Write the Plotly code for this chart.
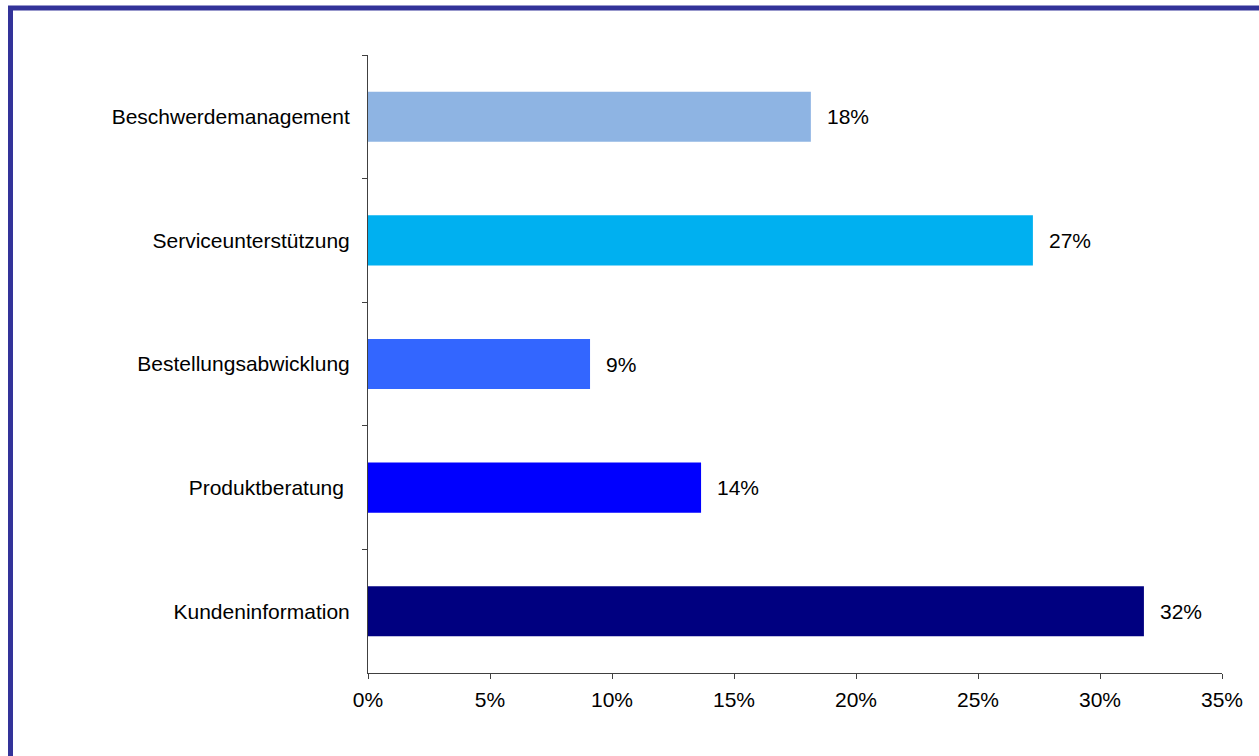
import plotly.graph_objects as go

categories = ["Beschwerdemanagement", "Serviceunterstützung", "Bestellungsabwicklung",
              "Produktberatung\u00a0", "Kundeninformation"]
values = [18.15, 27.25, 9.1, 13.65, 31.8]
labels = ["18%", "27%", "9%", "14%", "32%"]
colors = ["#8EB4E3", "#00B0F0", "#3366FF", "#0000FF", "#000080"]
x_ticks = [0, 5, 10, 15, 20, 25, 30, 35]

W, H = 1259, 756
L, R, T, B = 368, 37, 55, 83
pw, ph = W - L - R, H - T - B

font = dict(family="Liberation Sans, Arial, sans-serif", size=21, color="#000000")

fig = go.Figure()
fig.add_trace(go.Bar(
    y=categories, x=values, orientation="h",
    marker=dict(color=colors, line=dict(width=0)),
    width=0.405, hoverinfo="skip",
))
for c, v, t in zip(categories, values, labels):
    fig.add_annotation(x=v, y=c, text=t, showarrow=False, xanchor="left",
                       yanchor="middle", xshift=14, font=font)

def px_to_paper_x(px):
    return (px - L) / pw

def px_to_paper_y(py):
    return (H - B - py) / ph

fig.add_shape(type="rect", xref="paper", yref="paper",
              x0=px_to_paper_x(10.5), x1=px_to_paper_x(1290),
              y0=px_to_paper_y(790), y1=px_to_paper_y(8),
              line=dict(color="#333399", width=5), fillcolor="rgba(0,0,0,0)", layer="above")

fig.update_layout(
    width=W, height=H,
    margin=dict(l=L, r=R, t=T, b=B, pad=0),
    paper_bgcolor="white", plot_bgcolor="white",
    font=font, showlegend=False, bargap=0.6,
)
fig.update_xaxes(range=[0, 35], tickvals=x_ticks, ticktext=[f"{v}%" for v in x_ticks],
                 showgrid=False, zeroline=False, showline=True, linecolor="#404040",
                 linewidth=1, ticks="outside", ticklen=5, tickcolor="#404040",
                 ticklabelstandoff=3, tickfont=font)
fig.update_yaxes(autorange="reversed", type="category", tickson="boundaries",
                 showgrid=False, zeroline=False, showline=True, linecolor="#404040",
                 linewidth=1, ticks="outside", ticklen=5, tickcolor="#404040",
                 ticklabelstandoff=13, tickfont=font)

fig.write_html("out.html", config={"displayModeBar": False},
               post_script="document.body.style.margin='0';")
